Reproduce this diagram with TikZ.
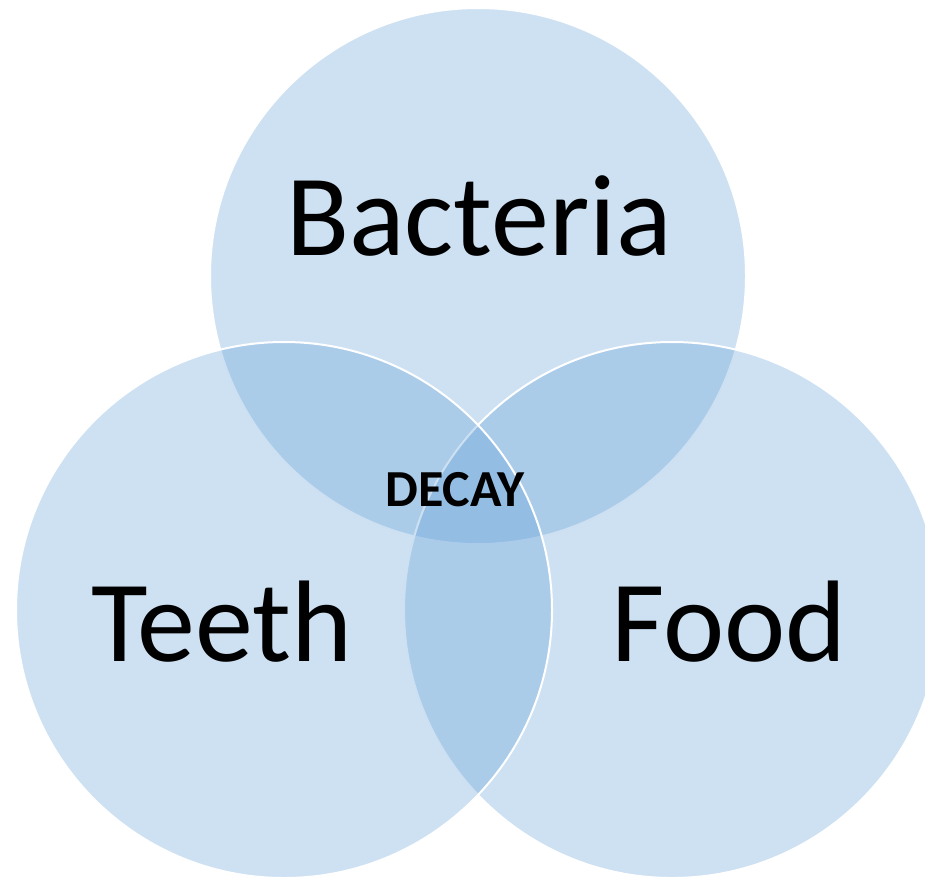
\documentclass[tikz,border=0pt]{standalone}
\usepackage{fontspec}
\setmainfont{Carlito}
\usetikzlibrary{positioning}

\definecolor{vennblue}{RGB}{91,155,213}

\begin{document}
\begin{tikzpicture}[
    x=1pt, y=-1pt,
    %% ── Circle style ────────────────────────────────────────────────────
    venncircle/.style={
        circle, draw=white, line width=2pt,
        fill=vennblue, fill opacity=0.3,
        minimum size=536pt, inner sep=0pt, outer sep=0pt,
    },
    %% ── Text styles ─────────────────────────────────────────────────────
    setlabel/.style={anchor=base, font=\fontsize{116}{116}\selectfont, text=black},
    midlabel/.style={anchor=base, font=\fontsize{52}{52}\selectfont\bfseries, text=black},
]

\clip (0,0) rectangle (925,876);
\useasboundingbox (0,0) rectangle (925,876);

%%─────────────────────────────────────────────────────────────────────────
%% Circles (drawn top, right, left)
%%─────────────────────────────────────────────────────────────────────────
\node[venncircle] (Bacteria) at (478, 276) {};
\node[venncircle] (Food)     at (672, 610) {};
\node[venncircle] (Teeth)    at (284, 610) {};

%%─────────────────────────────────────────────────────────────────────────
%% Labels
%%─────────────────────────────────────────────────────────────────────────
\node[setlabel] (BacteriaText) at (479, 255) {Bacteria};
\node[setlabel] (TeethText)    at (222, 661) {Teeth};
\node[setlabel] (FoodText)     at (729, 661) {Food};
\node[midlabel] (DecayText)    at (455, 506) {DECAY};

\end{tikzpicture}
\end{document}
